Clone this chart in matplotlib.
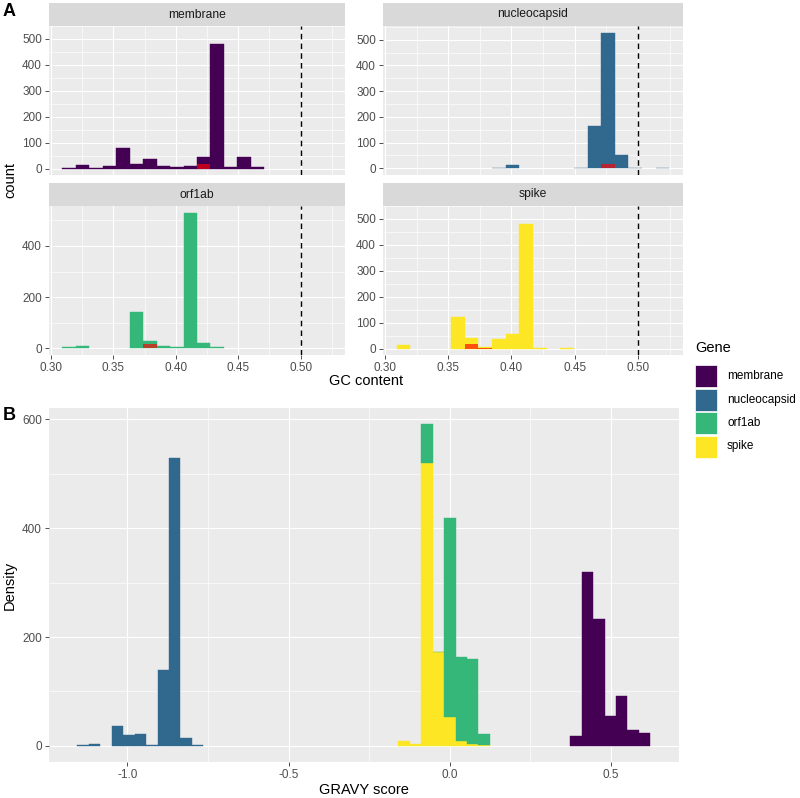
import numpy as np
import matplotlib
matplotlib.use("Agg")
import matplotlib.pyplot as plt
from matplotlib.patches import Rectangle

plt.rcParams['font.family'] = ['Liberation Sans', 'DejaVu Sans']

# ---------------- data ----------------
genes = ["membrane", "nucleocapsid", "orf1ab", "spike"]
gene_colors = ["#440154", "#31688E", "#35B779", "#FDE725"]

# Panel A: GC content histograms (20 bins)
gc_first_edge = 0.3093
gc_bin_width = 0.01077
gc_counts = {
    "membrane":     [1, 13, 2, 11, 81, 18, 36, 11, 7, 10, 46, 482, 6, 45, 5, 0, 0, 0, 0, 0],
    "nucleocapsid": [0, 0, 0, 0, 0, 0, 0, 2, 12, 0, 0, 0, 0, 1, 165, 527, 51, 2, 0, 1],
    "orf1ab":       [6, 9, 0, 0, 0, 140, 28, 9, 6, 530, 22, 3, 0, 0, 0, 0, 0, 0, 0, 0],
    "spike":        [15, 0, 0, 0, 123, 40, 6, 38, 56, 482, 2, 0, 1, 0, 0, 0, 0, 0, 0, 0],
}
gc_highlight = {
    "membrane":     [0, 0, 0, 0, 0, 0, 0, 0, 0, 0, 19, 0, 0, 0, 0, 0, 0, 0, 0, 0],
    "nucleocapsid": [0, 0, 0, 0, 0, 0, 0, 0, 0, 0, 0, 0, 0, 0, 0, 18, 0, 0, 0, 0],
    "orf1ab":       [0, 0, 0, 0, 0, 0, 16, 0, 0, 0, 0, 0, 0, 0, 0, 0, 0, 0, 0, 0],
    "spike":        [0, 0, 0, 0, 0, 17, 3, 0, 0, 0, 0, 0, 0, 0, 0, 0, 0, 0, 0, 0],
}
gc_reference_line = 0.5
gc_xticks = [0.30, 0.35, 0.40, 0.45, 0.50]
gc_xticklabels = ["0.30", "0.35", "0.40", "0.45", "0.50"]

# Panel B: GRAVY score histograms (50 bins, stacked)
gravy_first_edge = -1.1553
gravy_bin_width = 0.035544
gravy_counts = {
    "membrane":     [0]*43 + [18, 320, 233, 55, 91, 29, 23],
    "nucleocapsid": [1, 4, 0, 37, 20, 21, 2, 140, 529, 14, 1] + [0]*39,
    "orf1ab":       [0]*30 + [72, 1, 366, 155, 156, 19] + [0]*14,
    "spike":        [0]*28 + [9, 3, 519, 172, 53, 9, 4, 2] + [0]*14,
}
gravy_xticks = [-1.0, -0.5, 0.0, 0.5]
gravy_xticklabels = ["-1.0", "-0.5", "0.0", "0.5"]

# ---------------- layout ----------------
W, H = 800, 798
fig = plt.figure(figsize=(W/100, H/100), dpi=100)

def ax_px(x0, y0, x1, y1, **kw):
    return fig.add_axes([x0/W, 1 - y1/H, (x1-x0)/W, (y1-y0)/H], **kw)

PANEL_BG = "#EBEBEB"
STRIP_BG = "#D9D9D9"
TICK_COL = "#4D4D4D"
TXT = 8.5

def style(ax):
    ax.set_facecolor(PANEL_BG)
    for s in ax.spines.values():
        s.set_visible(False)
    ax.grid(True, which="major", color="white", lw=0.85)
    ax.grid(True, which="minor", color="white", lw=0.45)
    ax.set_axisbelow(True)
    ax.tick_params(axis="both", which="major", length=3.0, width=0.6,
                   color="#333333", labelcolor=TICK_COL, labelsize=TXT, pad=2)
    ax.tick_params(axis="both", which="minor", length=0)

def draw_bars(ax, edges, counts, width, color, bottom=None, **kw):
    counts = np.asarray(counts, dtype=float)
    if bottom is None:
        bottom = np.zeros_like(counts)
    nz = counts > 0
    ax.bar(edges[:-1][nz], counts[nz], width=width, bottom=bottom[nz], align="edge",
           color=color, **kw)

facet_boxes = {
    "membrane":     (49, 26, 345, 175),
    "nucleocapsid": (383, 26, 683, 175),
    "orf1ab":       (49, 206, 345, 355),
    "spike":        (383, 206, 683, 355),
}

gc_edges = gc_first_edge + gc_bin_width*np.arange(len(gc_counts["membrane"]) + 1)
gc_lo, gc_hi = gc_edges[0], gc_edges[-1]
gc_pad = 0.05*(gc_hi - gc_lo)

for g, col in zip(genes, gene_colors):
    x0, y0, x1, y1 = facet_boxes[g]
    ax = ax_px(x0, y0, x1, y1)
    style(ax)
    counts = np.array(gc_counts[g])
    draw_bars(ax, gc_edges, counts, gc_bin_width, col, edgecolor=col, lw=0.3, zorder=2)
    draw_bars(ax, gc_edges, gc_highlight[g], gc_bin_width, "red", alpha=0.65, lw=0, zorder=3)
    ax.axvline(gc_reference_line, color="black", ls=(0, (4, 3)), lw=1.0, zorder=4)
    ax.set_xlim(gc_lo - gc_pad, gc_hi + gc_pad)
    m = counts.max()
    ax.set_ylim(-0.05*m, 1.05*m)
    ax.set_xticks(gc_xticks)
    ax.set_xticks([0.325, 0.375, 0.425, 0.475, 0.525], minor=True)
    if g == "orf1ab":
        ax.set_yticks([0, 200, 400])
        ax.set_yticks([100, 300, 500], minor=True)
    else:
        ax.set_yticks([0, 100, 200, 300, 400, 500])
        ax.set_yticks([50, 150, 250, 350, 450, 550], minor=True)
    if g in ("orf1ab", "spike"):
        ax.set_xticklabels(gc_xticklabels)
    else:
        ax.set_xticklabels([])
        ax.tick_params(axis="x", which="major", length=0)
    # strip
    sax = ax_px(x0, y0 - 23, x1, y0)
    sax.set_facecolor(STRIP_BG)
    sax.set_xticks([]); sax.set_yticks([])
    for s in sax.spines.values():
        s.set_visible(False)
    sax.text(0.5, 0.5, g, ha="center", va="center", fontsize=8.7, color="#1A1A1A",
             transform=sax.transAxes)

# axis titles panel A
fig.text(10/W, 1 - 180/H, "count", rotation=90, ha="center", va="center", fontsize=10.5)
fig.text(366/W, 1 - 381/H, "GC content", ha="center", va="center", fontsize=10.5)

# Panel B
gravy_edges = gravy_first_edge + gravy_bin_width*np.arange(len(gravy_counts["membrane"]) + 1)
axb = ax_px(48.7, 408, 679, 762)
style(axb)
bottom = np.zeros(len(gravy_edges) - 1)
for g in ["spike", "orf1ab", "nucleocapsid", "membrane"]:
    col = gene_colors[genes.index(g)]
    c = np.array(gravy_counts[g], dtype=float)
    draw_bars(axb, gravy_edges, c, gravy_bin_width, col, bottom=bottom,
              edgecolor=col, lw=0.3, zorder=2)
    bottom = bottom + c
b_lo, b_hi = gravy_edges[0], gravy_edges[-1]
b_pad = 0.05*(b_hi - b_lo)
axb.set_xlim(b_lo - b_pad, b_hi + b_pad)
bm = bottom.max()
axb.set_ylim(-0.05*bm, 1.05*bm)
axb.set_xticks(gravy_xticks)
axb.set_xticklabels(gravy_xticklabels)
axb.set_xticks([-0.75, -0.25, 0.25], minor=True)
axb.set_yticks([0, 200, 400, 600])
axb.set_yticks([100, 300, 500], minor=True)
fig.text(10/W, 1 - 585/H, "Density", rotation=90, ha="center", va="center", fontsize=10.5)
fig.text(364/W, 1 - 790/H, "GRAVY score", ha="center", va="center", fontsize=10.5)

# panel tags
fig.text(3/W, 1 - 11/H, "A", fontsize=13, fontweight="bold", ha="left", va="center")
fig.text(3/W, 1 - 416/H, "B", fontsize=13, fontweight="bold", ha="left", va="center")

# legend
fig.text(695/W, 1 - 348/H, "Gene", fontsize=10.5, ha="left", va="center")
key_top = 365
for i, (g, col) in enumerate(zip(genes, gene_colors)):
    y = key_top + i*23.5
    fig.patches.append(Rectangle((695/W, 1 - (y + 22)/H), 22/W, 22/H,
                                 transform=fig.transFigure, facecolor=col,
                                 edgecolor="white", lw=0.5))
    fig.text(727/W, 1 - (y + 11)/H, g, fontsize=TXT, ha="left", va="center")

fig.savefig("out.png", dpi=100)
